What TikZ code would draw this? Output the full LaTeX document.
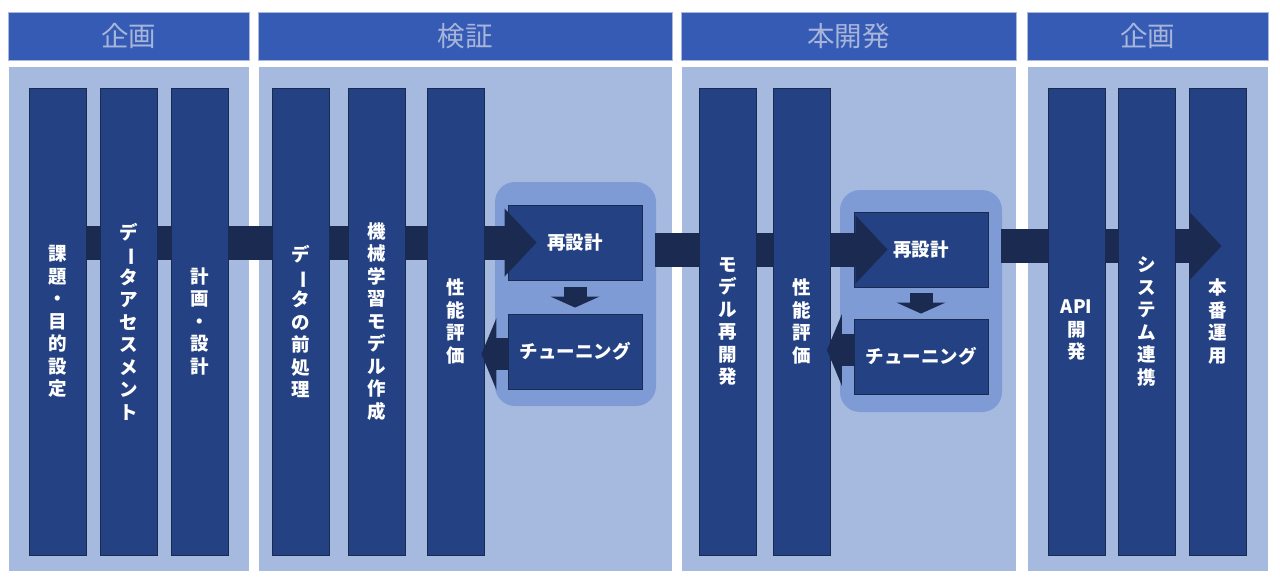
\documentclass[tikz,border=0pt]{standalone}
\usepackage{fontspec}
\usepackage{graphicx}
\newfontfamily\jp{Noto Sans CJK JP}
\usetikzlibrary{arrows.meta,calc}
\definecolor{hdblue}{HTML}{365BB5}
\definecolor{hdtext}{HTML}{A7B5DA}
\definecolor{hdline}{HTML}{A9B8DC}
\definecolor{panel}{HTML}{A6BAE0}
\definecolor{colfill}{HTML}{234183}
\definecolor{colline}{HTML}{1A2B50}
\definecolor{arrowc}{HTML}{1B2A50}
\definecolor{rbox}{HTML}{7F9BD6}
\pgfdeclarelayer{bg}
\pgfdeclarelayer{mid}
\pgfdeclarelayer{fg}
\pgfsetlayers{bg,mid,main,fg}
\newcommand{\vbar}{\rotatebox[origin=c]{-90}{ー}}
\tikzset{
  header/.style={draw=hdline, line width=0.8pt, fill=hdblue, inner sep=0pt, minimum height=48pt,
    text=hdtext, font=\jp\fontsize{27.5}{30}\selectfont},
  panelbox/.style={draw=white, line width=0.8pt, fill=panel, inner sep=0pt, minimum height=505pt},
  col/.style={draw=colline, line width=0.9pt, fill=colfill, inner sep=0pt, minimum width=57pt,
    minimum height=467pt, text=white, align=center, font=\jp\bfseries\fontsize{18.5}{22.5}\selectfont},
  coltext/.style={inner sep=0pt, text=white, align=center, font=\jp\bfseries\fontsize{18.5}{22.5}\selectfont},
  roundbox/.style={fill=rbox, rounded corners=20pt, inner sep=0pt},
  inbox/.style={draw=colline, line width=0.9pt, fill=colfill, inner sep=0pt, minimum width=134pt,
    minimum height=75pt, text=white, font=\jp\bfseries\fontsize{18.5}{20}\selectfont},
  bandarrow/.style={draw=arrowc, line width=34pt, -{Triangle[width=68pt,length=32pt,line width=0pt]}},
  backarrow/.style={draw=arrowc, line width=32pt, -{Triangle[width=72pt,length=15pt,line width=0pt]}},
  downarrow/.style={draw=arrowc, line width=23pt, -{Triangle[width=49pt,length=11pt,line width=0pt]}},
}
\begin{document}
\begin{tikzpicture}[x=1pt,y=-1pt]
\useasboundingbox (0,0) rectangle (1280,582);
\begin{pgfonlayer}{bg}
\fill[white] (0,0) rectangle (1280,582);
% headers
\node[header, minimum width=241pt] (hd1) at (128.5,36) {企画};
\node[header, minimum width=414pt] (hd2) at (465,36) {検証};
\node[header, minimum width=335pt] (hd3) at (848.5,36) {本開発};
\node[header, minimum width=241pt] (hd4) at (1147.5,36) {企画};
% panels
\node[panelbox, minimum width=241pt] (p1) at (128.5,318.5) {};
\node[panelbox, minimum width=414pt] (p2) at (465,318.5) {};
\node[panelbox, minimum width=335pt] (p3) at (848.5,318.5) {};
\node[panelbox, minimum width=241pt] (p4) at (1147.5,318.5) {};
% rounded boxes
\node[roundbox, minimum width=161pt, minimum height=224pt] (r2) at (575.5,294) {};
\node[roundbox, minimum width=162pt, minimum height=222pt] (r3) at (921,301) {};
% inner boxes
\node[inbox] (rd2) at (575,242.5) {再設計};
\node[inbox] (tu2) at (575,351.5) {チューニング};
\node[inbox] (rd3) at (921,249.5) {再設計};
\node[inbox] (tu3) at (921,356.5) {チューニング};
\end{pgfonlayer}
% columns
\node[col] (c11) at (57.5,321.5) {課\\題\\・\\目\\的\\設\\定};
\node[col] (c12) at (128.5,321.5) {デ\\\vbar\\タ\\ア\\セ\\ス\\メ\\ン\\ト};
\node[col] (c13) at (200,321.5) {計\\画\\・\\設\\計};
\node[col] (c21) at (300.5,321.5) {デ\\\vbar\\タ\\の\\前\\処\\理};
\node[col] (c22) at (376.5,321.5) {機\\械\\学\\習\\モ\\デ\\ル\\作\\成};
\node[col] (c23) at (455.5,321.5) {性\\能\\評\\価};
\node[col] (c31) at (727.5,321.5) {モ\\デ\\ル\\再\\開\\発};
\node[col] (c32) at (802,321.5) {性\\能\\評\\価};
\node[col] (c41) at (1076.5,321.5) {};
\node[coltext] (t41) at ([yshift=-9pt]c41.center) {API\\開\\発};
\node[col] (c42) at (1146.5,321.5) {シ\\ス\\テ\\ム\\連\\携};
\node[col] (c43) at (1217.5,321.5) {本\\番\\運\\用};
% forward arrows (behind columns)
\begin{pgfonlayer}{mid}
\draw[bandarrow] (c11.center |- rd2.west) -- ([xshift=29pt]rd2.west);
\draw[bandarrow] ([xshift=-1pt]r2.east |- rd3.west) -- ([xshift=34pt]rd3.west);
\draw[draw=arrowc, line width=34pt] ([xshift=-1pt]r3.east |- 0,246) -- ([xshift=2pt]c43.west |- 0,246);
\end{pgfonlayer}
\begin{pgfonlayer}{fg}
\draw[bandarrow] ([xshift=1pt]c43.west |- 0,246) -- ([xshift=33pt]c43.west |- 0,246);
\draw[backarrow] ([yshift=-2.5pt]tu2.west) -- ([xshift=-3pt,yshift=-2.5pt]c23.east |- tu2.west);
\draw[backarrow] ([yshift=6.5pt]tu3.west) -- ([xshift=-4pt,yshift=6.5pt]c32.east |- tu3.west);
\draw[downarrow] ([yshift=-7pt]rd2.south) -- ([yshift=6pt]tu2.north);
\draw[downarrow] ([yshift=-6pt]rd3.south) -- ([yshift=5pt]tu3.north);
\end{pgfonlayer}
\end{tikzpicture}
\end{document}
